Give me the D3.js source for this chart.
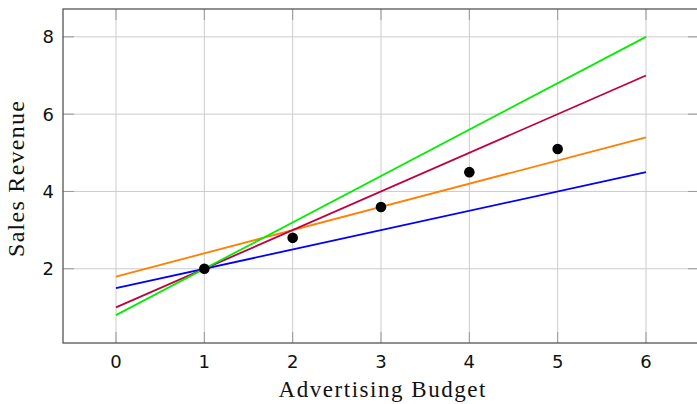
<!DOCTYPE html>
<html><head><meta charset="utf-8">
<script src="https://cdn.jsdelivr.net/npm/d3@7"></script>
<style>body{margin:0;background:#fff}svg{display:block}</style>
</head><body>
<svg id="c" width="697" height="404"></svg>
<script>
const xTicks = [0,1,2,3,4,5,6];
const yTicks = [2,4,6,8];
const pointX = [1,2,3,4,5];
const pointY = [2,2.8,3.6,4.5,5.1];
const lineNames = ["blue","orange","purple","green"];
const lineX = [0,6];
const lineStartY = [1.5,1.8,1.0,0.8];
const lineEndY = [4.5,5.4,7.0,8.0];
const lineColors = ["#0000ff","#ff8000","#bf0040","#00ee00"];
const xLabel = "Advertising Budget";
const yLabel = "Sales Revenue";

const svg = d3.select("#c");
const L=63, R=699, T=9, B=343;
const x = d3.scaleLinear().domain([-0.6,6.6]).range([L,R]);
const y = d3.scaleLinear().domain([0.08,8.72]).range([B,T]);

const g = svg.append("g");
// grid
g.selectAll(".gx").data(xTicks).join("line").attr("x1",d=>x(d)).attr("x2",d=>x(d)).attr("y1",T).attr("y2",B).attr("stroke","#cccccc").attr("stroke-width",1);
g.selectAll(".gy").data(yTicks).join("line").attr("y1",d=>y(d)).attr("y2",d=>y(d)).attr("x1",L).attr("x2",R).attr("stroke","#cccccc").attr("stroke-width",1);
// ticks (inward, both sides)
const tl=11, tc="#999999";
xTicks.forEach(t=>{
  g.append("line").attr("x1",x(t)).attr("x2",x(t)).attr("y1",B).attr("y2",B-tl).attr("stroke",tc);
  g.append("line").attr("x1",x(t)).attr("x2",x(t)).attr("y1",T).attr("y2",T+tl).attr("stroke",tc);
});
yTicks.forEach(t=>{
  g.append("line").attr("y1",y(t)).attr("y2",y(t)).attr("x1",L).attr("x2",L+tl).attr("stroke",tc);
  g.append("line").attr("y1",y(t)).attr("y2",y(t)).attr("x1",R).attr("x2",R-tl).attr("stroke",tc);
});
// lines
const line = d3.line().x(d=>x(d[0])).y(d=>y(d[1]));
lineNames.forEach((n,i)=>{
  g.append("path").attr("d",line([[lineX[0],lineStartY[i]],[lineX[1],lineEndY[i]]]))
   .attr("stroke",lineColors[i]).attr("stroke-width",1.8).attr("fill","none");
});
// points
g.selectAll(".pt").data(pointX).join("circle").attr("cx",d=>x(d)).attr("cy",(d,i)=>y(pointY[i])).attr("r",5.3).attr("fill","#000");
// frame
g.append("rect").attr("x",L).attr("y",T).attr("width",R-L).attr("height",B-T).attr("fill","none").attr("stroke","#555555").attr("stroke-width",1.3);
// tick labels
const tf = "'DejaVu Sans', sans-serif";
g.selectAll(".xl").data(xTicks).join("text").attr("x",d=>x(d)).attr("y",368).attr("text-anchor","middle")
 .attr("font-family",tf).attr("font-size",18).attr("fill","#111").text(d=>d);
g.selectAll(".yl").data(yTicks).join("text").attr("x",54).attr("y",d=>y(d)+6.5).attr("text-anchor","end")
 .attr("font-family",tf).attr("font-size",18).attr("fill","#111").text(d=>d);
// axis labels
const sf = "'Liberation Serif', serif";
svg.append("text").attr("x",382).attr("y",397).attr("text-anchor","middle").attr("font-family",sf).attr("font-size",23)
 .attr("textLength",207).attr("lengthAdjust","spacing").attr("fill","#111").text(xLabel);
svg.append("text").attr("transform",`translate(24,179) rotate(-90)`).attr("text-anchor","middle").attr("font-family",sf).attr("font-size",24)
 .attr("textLength",156).attr("lengthAdjust","spacing").attr("fill","#111").text(yLabel);
</script>
</body></html>
